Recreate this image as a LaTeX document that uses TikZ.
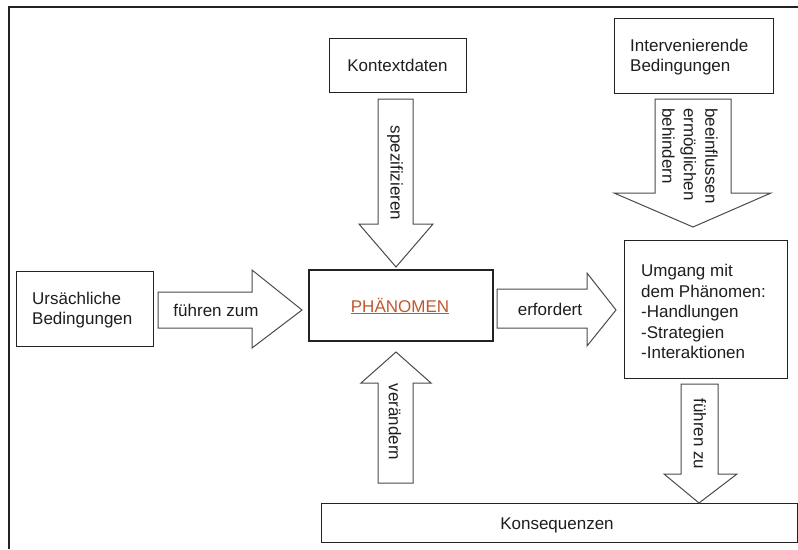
\documentclass[tikz,border=0pt]{standalone}
\usepackage{fontspec}
\setmainfont{Liberation Sans}
\definecolor{boxc}{HTML}{222222}
\definecolor{arrc}{HTML}{4A4A4A}
\definecolor{txt}{HTML}{1E1E1E}
\definecolor{phc}{HTML}{C0582E}
\newcommand{\diafont}{\fontsize{17}{20.5}\selectfont}
\tikzset{
  boxnode/.style={draw=boxc, line width=1pt, fill=white, rectangle, inner sep=0pt},
  blockarrow/.style={draw=arrc, line width=1pt, fill=white, line join=miter},
  lbl/.style={font=\diafont, text=txt, inner sep=0pt},
}
\begin{document}
\begin{tikzpicture}[x=1pt,y=-1pt]
\useasboundingbox (0,0) rectangle (798,549);
\fill[white] (0,0) rectangle (798,549);
% frame
\draw[boxc, line width=1.2pt] (9,549) -- (9,7) -- (798,7);

% boxes
\node[boxnode, minimum width=137pt, minimum height=54pt] (kontext) at (397.5,65) {};
\node[boxnode, minimum width=159pt, minimum height=75pt] (interv) at (693.5,55.5) {};
\node[boxnode, minimum width=163pt, minimum height=138pt] (umgang) at (705.5,309) {};
\node[boxnode, minimum width=137pt, minimum height=75pt] (urs) at (84.5,308.5) {};
\node[boxnode, line width=2.2pt, minimum width=184pt, minimum height=71pt] (phaen) at (401,305.5) {};
\node[boxnode, minimum width=476pt, minimum height=39pt] (kons) at (559,522.5) {};

% box texts
\node[lbl] (tkontext) at (kontext.center) {Kontextdaten};
\node[lbl, align=left, anchor=west] (tinterv) at (630,57) {Intervenierende\\Bedingungen};
\node[lbl, align=left, anchor=west] (turs) at (32,310) {Ursächliche\\Bedingungen};
\node[lbl, align=left, anchor=north west] (tumgang) at (641,264) {Umgang mit\\dem Phänomen:\\-Handlungen\\-Strategien\\-Interaktionen};
\node[lbl, text=phc] (tphaen) at (400,306) {\underline{PHÄNOMEN}};
\node[lbl] (tkons) at (557,525) {Konsequenzen};

% block arrows
% spezifizieren (down)
\draw[blockarrow] (378,99) -- (413,99) -- (413,224) -- (433,224) -- (396,267) -- (359,224) -- (378,224) -- cycle;
\node[lbl, rotate=-90] (tspez) at (395,173) {spezifizieren};
% beeinflussen (down)
\draw[blockarrow] (655,99) -- (731,99) -- (731,193) -- (771,193) -- (693,227) -- (614,193) -- (655,193) -- cycle;
\node[lbl, rotate=-90, anchor=west, align=left, font=\fontsize{17}{21.5}\selectfont] (tbeein) at (690,108) {beeinflussen\\ermöglichen\\behindern};
% führen zum (right)
\draw[blockarrow] (158,292) -- (252,292) -- (252,270) -- (302,310) -- (252,348) -- (252,328) -- (158,328) -- cycle;
\node[lbl] (tfzum) at (216,310) {führen zum};
% erfordert (right)
\draw[blockarrow] (497,289) -- (587,289) -- (587,273) -- (616,310) -- (587,346) -- (587,328) -- (497,328) -- cycle;
\node[lbl] (terf) at (550,309) {erfordert};
% verändern (up)
\draw[blockarrow] (378,483) -- (413,483) -- (413,383) -- (431,383) -- (396,352) -- (361,383) -- (378,383) -- cycle;
\node[lbl, rotate=-90] (tver) at (395,422) {verändern};
% führen zu (down)
\draw[blockarrow] (681,384) -- (718,384) -- (718,474) -- (737,474) -- (699,503) -- (664,474) -- (681,474) -- cycle;
\node[lbl, rotate=-90] (tfzu) at (700,434) {führen zu};
\end{tikzpicture}
\end{document}
